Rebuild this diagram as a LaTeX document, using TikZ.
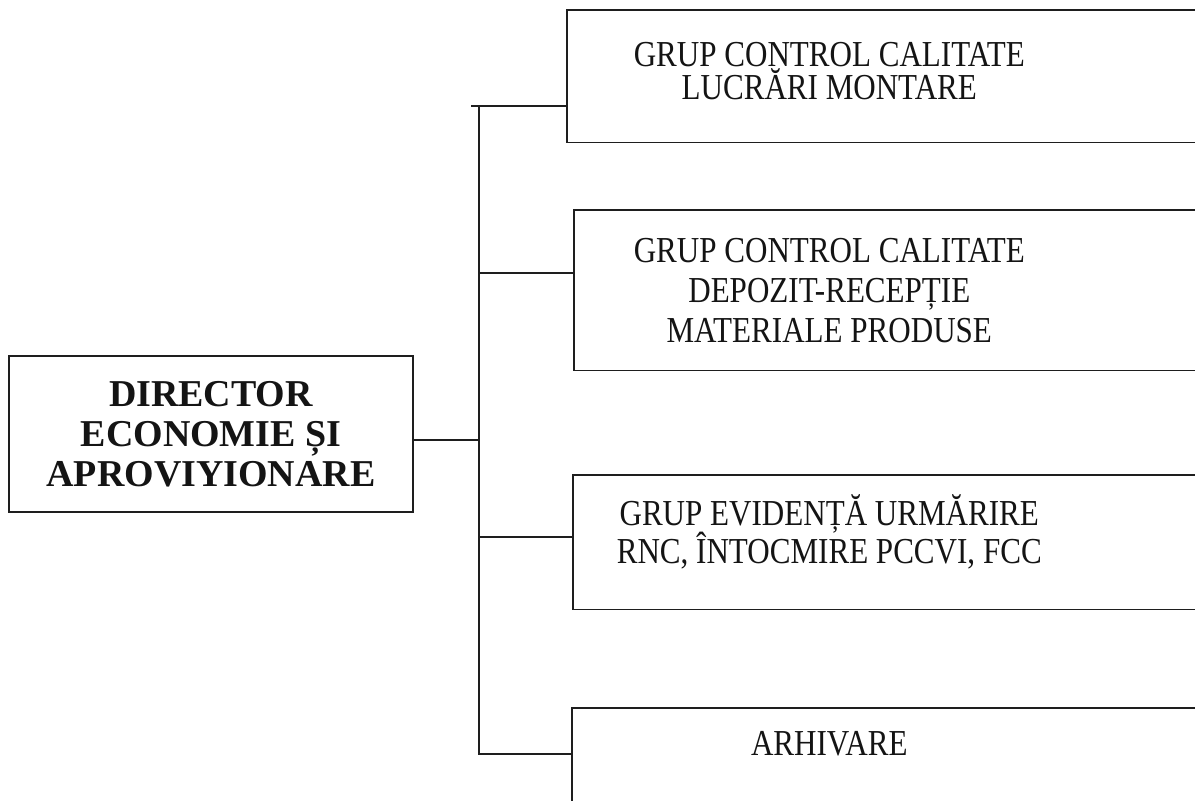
\documentclass[tikz,border=0pt]{standalone}
\usepackage{fontspec}
\setmainfont{Liberation Serif}
\newfontfamily\grupfont[FakeStretch=0.85]{Liberation Serif}
\usetikzlibrary{positioning,calc}
\definecolor{colLinie}{RGB}{30,30,30}
\definecolor{colText}{RGB}{20,20,20}
\newcommand\literegrup[1]{\grupfont\fontsize{26}{#1}\selectfont\lineskiplimit=-20pt}

\begin{document}
\begin{tikzpicture}[
    sef/.style={rectangle, draw=colLinie, line width=1.3pt, align=center,
      minimum width=10.1cm, minimum height=3.9cm, inner sep=0pt, text=colText,
      font=\bfseries\fontsize{27}{28.45}\selectfont},
    grup/.style={rectangle, anchor=north west, align=center,
      inner sep=0pt, text=colText,
      append after command={\pgfextra{\draw[colLinie, line width=1.3pt]
        (\tikzlastnode.north west) rectangle
        ([xshift=4cm, yshift=-#1]\tikzlastnode.south east);}}},
    legatura/.style={colLinie, line width=1.3pt}]
    \useasboundingbox (0,0) rectangle (29.875,20);
    \fill[white] (0,0) rectangle (29.875,20);
    \clip (0,0) rectangle (29.875,20);
    % director
    \node[sef] (director) at (5.275,9.15) {DIRECTOR\\ECONOMIE ȘI\\APROVIYIONARE};
    % grupuri
    \node[grup=0.26cm, minimum width=13.1cm, minimum height=3.04cm,
      font=\literegrup{23.5pt}] (lucrari) at (14.175,19.75)
      {GRUP CONTROL CALITATE\\LUCRĂRI MONTARE};
    \node[grup=0cm, minimum width=12.75cm, minimum height=4cm,
      font=\literegrup{28.5pt}] (depozit) at (14.35,14.75)
      {GRUP CONTROL CALITATE\\DEPOZIT-RECEPȚIE\\MATERIALE PRODUSE};
    \node[grup=0.5cm, minimum width=12.8cm, minimum height=2.85cm,
      font=\literegrup{27pt}] (evidenta) at (14.325,8.125)
      {GRUP EVIDENȚĂ URMĂRIRE\\RNC, ÎNTOCMIRE PCCVI, FCC};
    \node[grup=2cm, minimum width=12.85cm, minimum height=1.76cm,
      font=\literegrup{27pt}] (arhivare) at (14.3,2.3) {ARHIVARE};
    % legaturi
    \coordinate (t0) at (11.975,9.0);
    \coordinate (t1) at (11.975,17.35);
    \coordinate (t2) at (11.975,13.175);
    \coordinate (t3) at (11.975,6.575);
    \coordinate (t4) at (11.975,1.15);
    \draw[legatura] (director.east |- t0) -- (t0);
    \draw[legatura] ([xshift=-0.2cm]t1) -- (lucrari.west |- t1);
    \draw[legatura] (t1) -- (t4) -- (arhivare.west |- t4);
    \draw[legatura] (t2) -- (depozit.west |- t2);
    \draw[legatura] (t3) -- (evidenta.west |- t3);
\end{tikzpicture}
\end{document}
